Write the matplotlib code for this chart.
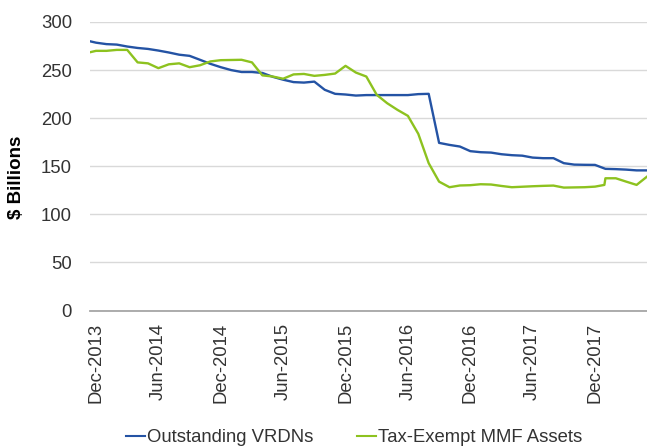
import matplotlib
matplotlib.use("Agg")
import matplotlib.pyplot as plt
import numpy as np

plt.rcParams['font.family'] = ['Liberation Sans', 'DejaVu Sans']

# month offsets relative to Dec-2013 (index 0); first point is Nov-2013
blue_x = list(range(-1, 54))
vrdn_values = [281, 278.5, 277, 276.5, 274.5, 273, 272, 270.3, 268.3, 266,
               264.8, 260.7, 256.5, 253, 250, 248, 248, 247, 243, 240,
               237.5, 237, 238, 229.5, 225.3, 224.6, 223.5, 224, 224, 224,
               224, 224, 225, 225.3, 174.3, 172.2, 170.5, 165.7, 164.6, 164.2,
               162.5, 161.5, 161, 159, 158.4, 158.4, 153.2, 151.7, 151.5, 151.4,
               147.3, 147, 146.5, 145.7, 145.7]

green_x = list(range(-1, 49)) + [48.9] + list(range(49, 54))
mmf_values = [267.5, 270, 270, 271, 271, 258, 257, 252, 256, 257,
              253, 255, 259, 260.3, 260.5, 260.7, 258, 244.5, 243.3, 241,
              245.5, 246, 244, 245, 246.4, 254.4, 247.4, 243.3, 224.3, 215.6,
              208.6, 202.4, 183.7, 153.2, 134, 128.2, 130, 130.3, 131.3, 131,
              129.5, 128.2, 128.7, 129.2, 129.6, 129.9, 127.8, 128, 128.2, 128.8,
              130.6, 137.5, 137.5, 134, 130.6, 139.2]

tick_months = [0, 6, 12, 18, 24, 30, 36, 42, 48]
tick_labels = ['Dec-2013', 'Jun-2014', 'Dec-2014', 'Jun-2015', 'Dec-2015',
               'Jun-2016', 'Dec-2016', 'Jun-2017', 'Dec-2017']
series_names = ['Outstanding VRDNs', 'Tax-Exempt MMF Assets']

W, H = 647, 446
fig = plt.figure(figsize=(W / 100, H / 100), dpi=100)
ax = fig.add_axes([90 / W, (H - 310.5) / H, (647 - 90) / W, (310.5 - 22) / H])

blue = '#2453a4'
green = '#8dc21f'
ax.plot(blue_x, vrdn_values, color=blue, lw=1.7, label=series_names[0], zorder=3)
ax.plot(green_x, mmf_values, color=green, lw=1.7, label=series_names[1], zorder=3)

ax.set_xlim(-0.58, 53.0)
ax.set_ylim(0, 300)
ax.set_yticks(np.arange(0, 301, 50))
ax.yaxis.grid(True, color='#d9d9d9', lw=1.0)
ax.set_axisbelow(True)
for s in ['top', 'right', 'left']:
    ax.spines[s].set_visible(False)
ax.spines['bottom'].set_color('#a6a6a6')
ax.spines['bottom'].set_linewidth(1.3)
ax.spines['bottom'].set_zorder(4)

ax.set_xticks(tick_months)
ax.set_xticklabels(tick_labels, rotation=90)
ax.tick_params(axis='x', length=0, pad=9, labelsize=13.3, colors='#333333')
ax.tick_params(axis='y', length=0, pad=13, labelsize=13.3, colors='#333333')

ax.set_ylabel('$ Billions', fontsize=13.5, fontweight='bold', color='#000000')
ax.yaxis.set_label_coords((25 - 90) / 557, (310.5 - 177) / 288.5)

leg = fig.legend(loc='center', bbox_to_anchor=(354 / W, (H - 438) / H), ncol=2,
                 frameon=False, fontsize=13.3, handlelength=1.0, handletextpad=0.1,
                 columnspacing=2.4, borderaxespad=0, borderpad=0)
for t in leg.get_texts():
    t.set_color('#333333')
for l in leg.get_lines():
    l.set_linewidth(1.5)

fig.savefig('out.png', dpi=100)
